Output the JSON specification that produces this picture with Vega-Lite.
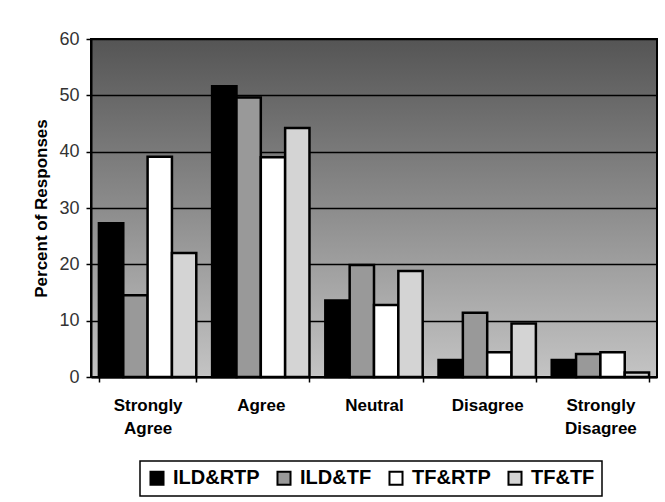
{
  "$schema": "https://vega.github.io/schema/vega-lite/v6.json",
  "width": 566,
  "height": 338,
  "autosize": {"type": "none"},
  "padding": {"left": 91, "top": 39, "right": 8, "bottom": 125},
  "background": "white",
  "data": {
    "values": [
      {"response": "Strongly Agree", "group": "ILD&RTP", "percent": 27.3},
      {"response": "Strongly Agree", "group": "ILD&TF", "percent": 14.5},
      {"response": "Strongly Agree", "group": "TF&RTP", "percent": 39.1},
      {"response": "Strongly Agree", "group": "TF&TF", "percent": 22.0},
      {"response": "Agree", "group": "ILD&RTP", "percent": 51.6},
      {"response": "Agree", "group": "ILD&TF", "percent": 49.6},
      {"response": "Agree", "group": "TF&RTP", "percent": 39.0},
      {"response": "Agree", "group": "TF&TF", "percent": 44.2},
      {"response": "Neutral", "group": "ILD&RTP", "percent": 13.6},
      {"response": "Neutral", "group": "ILD&TF", "percent": 19.9},
      {"response": "Neutral", "group": "TF&RTP", "percent": 12.8},
      {"response": "Neutral", "group": "TF&TF", "percent": 18.8},
      {"response": "Disagree", "group": "ILD&RTP", "percent": 3.0},
      {"response": "Disagree", "group": "ILD&TF", "percent": 11.4},
      {"response": "Disagree", "group": "TF&RTP", "percent": 4.4},
      {"response": "Disagree", "group": "TF&TF", "percent": 9.5},
      {"response": "Strongly Disagree", "group": "ILD&RTP", "percent": 3.0},
      {"response": "Strongly Disagree", "group": "ILD&TF", "percent": 4.1},
      {"response": "Strongly Disagree", "group": "TF&RTP", "percent": 4.4},
      {"response": "Strongly Disagree", "group": "TF&TF", "percent": 0.8}
    ]
  },
  "mark": {"type": "bar", "stroke": "black", "strokeWidth": 2.5},
  "encoding": {
    "x": {
      "field": "response",
      "type": "nominal",
      "sort": ["Strongly Agree", "Agree", "Neutral", "Disagree", "Strongly Disagree"],
      "scale": {"paddingInner": 0.14, "paddingOuter": 0.07},
      "axis": {
        "title": null,
        "labelAngle": 0,
        "labelExpr": "split(datum.label, ' ')",
        "labelFontSize": 17,
        "labelFontWeight": "bold",
        "labelColor": "black",
        "labelPadding": 15,
        "labelLineHeight": 23,
        "domainColor": "black",
        "domainWidth": 2,
        "ticks": true,
        "tickBand": "extent",
        "tickSize": 5,
        "tickColor": "black",
        "tickWidth": 1.5
      }
    },
    "xOffset": {
      "field": "group",
      "type": "nominal",
      "sort": ["ILD&RTP", "ILD&TF", "TF&RTP", "TF&TF"],
      "scale": {"paddingInner": 0, "paddingOuter": 0}
    },
    "y": {
      "field": "percent",
      "type": "quantitative",
      "scale": {"domain": [0, 60], "nice": false},
      "axis": {
        "title": "Percent of Responses",
        "titleFontSize": 17,
        "titleFontWeight": "bold",
        "titleColor": "black",
        "titlePadding": 8,
        "values": [0, 10, 20, 30, 40, 50, 60],
        "labelFontSize": 18,
        "labelColor": "#333333",
        "labelPadding": 7,
        "tickSize": 5,
        "tickColor": "black",
        "tickWidth": 1.5,
        "domainColor": "black",
        "domainWidth": 2,
        "grid": true,
        "gridColor": "black",
        "gridWidth": 1.5
      }
    },
    "fill": {
      "field": "group",
      "type": "nominal",
      "scale": {
        "domain": ["ILD&RTP", "ILD&TF", "TF&RTP", "TF&TF"],
        "range": ["#000000", "#999999", "#ffffff", "#d4d4d4"]
      },
      "legend": {
        "title": null,
        "orient": "none",
        "legendX": 49,
        "legendY": 422,
        "direction": "horizontal",
        "strokeColor": "black",
        "padding": 7,
        "symbolType": "square",
        "symbolSize": 170,
        "symbolStrokeColor": "black",
        "symbolStrokeWidth": 2,
        "symbolOpacity": 1,
        "labelFontSize": 20,
        "labelFontWeight": "bold",
        "labelColor": "black",
        "labelOffset": 6,
        "columnPadding": 13
      }
    }
  },
  "config": {
    "font": "Liberation Sans",
    "view": {
      "fill": {
        "gradient": "linear",
        "x1": 0, "y1": 0, "x2": 0, "y2": 1,
        "stops": [
          {"offset": 0, "color": "#555555"},
          {"offset": 0.5, "color": "#8c8c8c"},
          {"offset": 1, "color": "#c4c4c4"}
        ]
      },
      "stroke": "black",
      "strokeWidth": 2
    },
    "legend": {"strokeWidth": 1.5}
  }
}
